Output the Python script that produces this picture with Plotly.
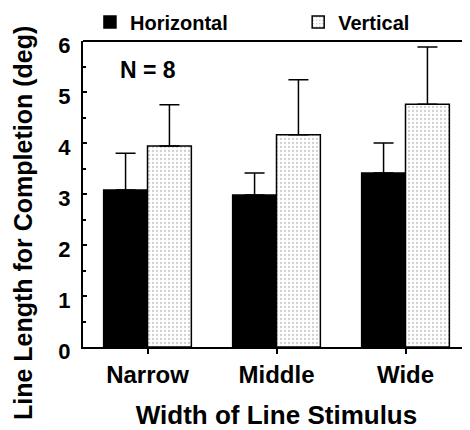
import plotly.graph_objects as go

categories = ["Narrow", "Middle", "Wide"]
horizontal = [3.08, 2.98, 3.41]
horizontal_err = [0.72, 0.43, 0.59]
vertical = [3.94, 4.16, 4.76]
vertical_err = [0.81, 1.08, 1.12]
y_ticks = [0, 1, 2, 3, 4, 5, 6]

FONT = "Liberation Sans"

fig = go.Figure()
fig.add_trace(go.Bar(
    x=categories, y=horizontal, name="Horizontal", legend="legend",
    marker=dict(color="black", line=dict(color="black", width=1.5)),
    error_y=dict(type="data", array=horizontal_err, arrayminus=[0]*3, symmetric=False,
                 color="black", thickness=1.5, width=10),
))
fig.add_trace(go.Bar(
    x=categories, y=vertical, name="Vertical", legend="legend2",
    marker=dict(color="white", line=dict(color="black", width=1.5),
                pattern=dict(shape=".", fgcolor="#a0a0a0", bgcolor="white", size=4, solidity=0.25)),
    error_y=dict(type="data", array=vertical_err, arrayminus=[0]*3, symmetric=False,
                 color="black", thickness=1.5, width=10),
))

fig.add_annotation(x=0.09, y=0.905, xref="paper", yref="paper", text="<b>N = 8</b>",
                   showarrow=False, xanchor="left", yanchor="middle",
                   font=dict(family=FONT, size=23, color="black"))

# y-axis title (sits lower than the plot centre in the reference)
fig.add_annotation(x=-0.155, y=0.405, xref="paper", yref="paper",
                   text="<b>Line Length for Completion (deg)</b>", textangle=-90,
                   showarrow=False, xanchor="center", yanchor="middle",
                   font=dict(family=FONT, size=25, color="black"))

# top frame line (right side of the frame is cut off in the reference)
fig.add_shape(type="line", xref="paper", yref="paper", x0=0, x1=1, y0=1, y1=1,
              line=dict(color="black", width=2))

legend_font = dict(family=FONT, size=20, color="black", weight="bold")
fig.update_layout(
    width=462, height=422,
    margin=dict(l=75, r=0, t=33, b=83, autoexpand=False),
    paper_bgcolor="white", plot_bgcolor="white",
    barmode="group", bargap=0.32, bargroupgap=0,
    font=dict(family=FONT, color="black"),
    showlegend=True,
    legend=dict(orientation="h", x=0.018, y=1.062, xanchor="left", yanchor="middle",
                font=legend_font, bgcolor="rgba(0,0,0,0)"),
    legend2=dict(orientation="h", x=0.556, y=1.062, xanchor="left", yanchor="middle",
                 font=legend_font, bgcolor="rgba(0,0,0,0)"),
    xaxis=dict(range=[-0.5, 2.5], showline=True, linecolor="black", linewidth=2,
               ticks="outside", ticklen=5, tickwidth=1.5, tickcolor="black",
               tickfont=dict(family=FONT, size=24, color="black", weight="bold"),
               ticklabelstandoff=0,
               title=dict(text="Width of Line Stimulus", standoff=23,
                          font=dict(family=FONT, size=26, color="black", weight="bold")),
               showgrid=False, zeroline=False),
    yaxis=dict(range=[0, 6], tickvals=y_ticks, showline=True, linecolor="black", linewidth=2,
               ticks="inside", ticklen=4, tickwidth=1.5, tickcolor="black",
               minor=dict(dtick=0.5, ticks="inside", ticklen=3, tickcolor="black"),
               tickfont=dict(family=FONT, size=22, color="black", weight="bold"),
               ticklabelstandoff=6, ticklabelshift=4,
               showgrid=False, zeroline=False),
)

fig.write_html("out.html")
